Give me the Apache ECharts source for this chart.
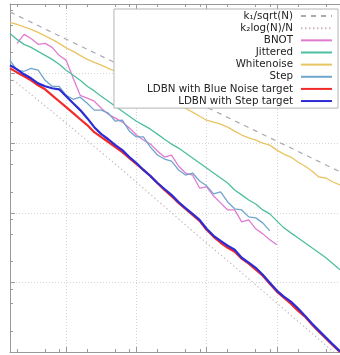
<!DOCTYPE html>
<html><head><meta charset="utf-8">
<script src="https://cdn.jsdelivr.net/npm/echarts@6/dist/echarts.min.js"></script>
<style>html,body{margin:0;padding:0;background:#fff}#c{width:340px;height:355px}</style>
</head><body><div id="c"></div>
<script>
// Number of points N (log spaced), shared by the measured curves
const N = [1.585, 1.995, 2.512, 3.162, 3.981, 5.012, 6.310, 7.943, 10, 12.59, 15.85, 19.95, 25.12, 31.62, 39.81, 50.12, 63.10, 79.43,
  100, 125.9, 158.5, 199.5, 251.2, 316.2, 398.1, 501.2, 631.0, 794.3, 1000, 1259, 1585, 1995, 2512, 3162, 3981, 5012, 6310, 7943,
  10000, 12589, 15849, 19953, 25119, 31623, 39811, 50119, 63096, 79433];

// Reference curves
const sqrtRefN = [1.585, 10, 100, 1000, 10000, 79433];
const sqrtRef = [0.768, 0.312, 0.1024, 0.0329, 0.0107, 0.00389];
const logRefN = [1.585, 8.2, 58.6, 730, 4140, 62800, 79433];
const logRef = [0.0885, 0.0229, 0.0044, 0.000482, 0.000109, 1.02e-5, 8.3e-6];

// Measured discrepancy curves
const bnot = [null, 0.272, 0.366, 0.320, 0.263, 0.272, 0.238, 0.183, 0.155, 0.0856, 0.0487, 0.0443, 0.0401, 0.0318, 0.0261, 0.0229,
  0.0201, 0.0166, 0.0131, 0.0111, 0.00971, 0.00771, 0.00632, 0.00676, 0.00470, 0.00373, 0.00349, 0.00227, 0.00235, 0.00174, 0.00139,
  0.00110, 0.00110, 0.000741, 0.000791, 0.000589, 0.000498, 0.000409, 0.000347, null, null, null, null, null, null, null, null, null];
const jittered = [0.378, 0.310, 0.263, 0.238, 0.209, 0.183, 0.160, 0.136, 0.112, 0.0946, 0.0801, 0.0657, 0.0564, 0.0473, 0.0401, 0.0340,
  0.0288, 0.0244, 0.0207, 0.0182, 0.0159, 0.0135, 0.0114, 0.00971, 0.00851, 0.00722, 0.00612, 0.00519, 0.00440, 0.00373, 0.00316,
  0.00268, 0.00213, 0.00181, 0.00153, 0.00134, 0.00110, 0.000964, 0.000765, 0.000608, 0.000515, 0.000437, 0.000371, 0.000314,
  0.000267, 0.000226, 0.000186, 0.000152];
const whitenoise = [0.543, 0.509, 0.468, 0.431, 0.391, 0.348, 0.310, 0.272, 0.234, 0.209, 0.183, 0.160, 0.145, 0.132, 0.119, 0.108,
  0.0977, 0.0856, 0.0751, 0.0658, 0.0577, 0.0506, 0.0443, 0.0401, 0.0363, 0.0318, 0.0279, 0.0244, 0.0214, 0.0201, 0.0188, 0.0170,
  0.0149, 0.0131, 0.0119, 0.0111, 0.0100, 0.00939, 0.00796, 0.00698, 0.00632, 0.00536, 0.00470, 0.00398, 0.00327, 0.00316, 0.00277, 0.00251];
const step = [0.155, 0.112, 0.108, 0.119, 0.112, 0.0801, 0.0657, 0.0657, 0.0487, 0.0428, 0.0458, 0.0375, 0.0299, 0.0299, 0.0271, 0.0207,
  0.0214, 0.0149, 0.0123, 0.0123, 0.00879, 0.00676, 0.00592, 0.00554, 0.00413, 0.00349, 0.00373, 0.00286, 0.00244, 0.00187, 0.00200,
  0.00143, 0.00114, 0.00110, 0.000873, 0.000846, 0.000716, 0.000550, null, null, null, null, null, null, null, null, null, null];
const ldbnBlueNoise = [0.119, 0.104, 0.0915, 0.0801, 0.0680, 0.0595, 0.0487, 0.0401, 0.0329, 0.0271, 0.0221, 0.0182, 0.0144, 0.0122,
  0.0104, 0.00879, 0.00745, 0.00612, 0.00503, 0.00413, 0.00338, 0.00268, 0.00213, 0.00174, 0.00139, 0.00114, 0.000933, 0.000765,
  0.000570, 0.000452, 0.000371, 0.000314, 0.000276, 0.000219, 0.000186, 0.000152, 0.000125, 9.58e-5, 7.38e-5, 6.04e-5, 4.95e-5,
  3.93e-5, 3.23e-5, 2.48e-5, 1.96e-5, 1.56e-5, 1.24e-5, 1.0e-5];
const ldbnStep = [0.132, 0.115, 0.0977, 0.0856, 0.0724, 0.0657, 0.0616, 0.0595, 0.0473, 0.0375, 0.0299, 0.0229, 0.0170, 0.0135,
  0.0114, 0.00939, 0.00796, 0.00632, 0.00519, 0.00413, 0.00338, 0.00268, 0.00220, 0.00181, 0.00143, 0.00117, 0.000964, 0.000791,
  0.000589, 0.000467, 0.000394, 0.000336, 0.000294, 0.000226, 0.000192, 0.000162, 0.000129, 9.90e-5, 7.63e-5, 6.24e-5, 5.29e-5,
  4.25e-5, 3.33e-5, 2.56e-5, 2.03e-5, 1.61e-5, 1.28e-5, 1.02e-5];

// Axis extents and minor tick positions
const xMin = 1.585, xMax = 79433;
const yMin = 1e-5, yMax = 1;
const xMinorTicks = [2, 5, 8, 20, 50, 80, 200, 500, 800, 2000, 5000, 8000, 20000, 50000];
const yMinorTicks = [2e-5, 5e-5, 8e-5, 2e-4, 5e-4, 8e-4, 2e-3, 5e-3, 8e-3, 0.02, 0.05, 0.08, 0.2, 0.5, 0.8];

const names = ['k\u2081/sqrt(N)', 'k\u2082log(N)/N', 'BNOT', 'Jittered', 'Whitenoise', 'Step',
  'LDBN with Blue Noise target', 'LDBN with Step target'];

function pairs(xs, ys) {
  const out = [];
  for (let i = 0; i < xs.length; i++) if (ys[i] != null) out.push([xs[i], ys[i]]);
  return out;
}
function line(name, data, color, width, type) {
  return { name, type: 'line', data, symbol: 'none', showSymbol: false, clip: true, smooth: false,
    xAxisIndex: 0, yAxisIndex: 0,
    lineStyle: { color, width, type: type || 'solid' }, itemStyle: { color }, emphasis: { disabled: true } };
}

const axisCol = '#9a9a9a';
function xAx(pos, minor) {
  return { type: 'log', logBase: 10, min: xMin, max: xMax, position: pos, offset: 0,
    axisLine: { show: !minor, lineStyle: { color: axisCol, width: 1 } },
    axisTick: minor ? { show: true, inside: true, length: 3, customValues: xMinorTicks, lineStyle: { color: axisCol } }
                    : { show: true, inside: true, length: 5, lineStyle: { color: axisCol } },
    axisLabel: { show: false },
    splitLine: (pos === 'bottom' && !minor) ? { show: true, showMinLine: false, showMaxLine: false,
      lineStyle: { color: '#d6d6d6', type: [1, 2], width: 1 } } : { show: false } };
}
function yAx(minor) {
  return { type: 'log', logBase: 10, min: yMin, max: yMax, position: 'left', offset: 0,
    axisLine: { show: !minor, lineStyle: { color: axisCol, width: 1 } },
    axisTick: minor ? { show: true, inside: true, length: 3, customValues: yMinorTicks, lineStyle: { color: axisCol } }
                    : { show: true, inside: true, length: 5, lineStyle: { color: axisCol } },
    axisLabel: { show: false },
    splitLine: !minor ? { show: true, showMinLine: false, showMaxLine: false,
      lineStyle: { color: '#d6d6d6', type: [1, 2], width: 1 } } : { show: false } };
}

const chart = echarts.init(document.getElementById('c'), null, { renderer: 'canvas' });
chart.setOption({
  animation: false,
  backgroundColor: '#fff',
  grid: { left: 10, right: 0, top: 4, bottom: 3, containLabel: false },
  xAxis: [xAx('bottom', false), xAx('bottom', true), xAx('top', false), xAx('top', true)],
  yAxis: [yAx(false), yAx(true)],
  legend: {
    data: names, orient: 'vertical', align: 'right', right: 2, top: 9,
    padding: [1, 5, 1, 33], backgroundColor: '#fff', borderColor: '#b4b4b4', borderWidth: 1, borderRadius: 0,
    itemWidth: 31, itemHeight: 8, itemGap: 0, selectedMode: false,
    itemStyle: { opacity: 0, color: 'rgba(0,0,0,0)', borderWidth: 0 },
    textStyle: { fontFamily: 'DejaVu Sans', fontSize: 10.3, color: '#222', lineHeight: 12.14, padding: [0, 3, 0, 0] }
  },
  series: [
    line(names[0], pairs(sqrtRefN, sqrtRef), '#a9a9b4', 1.2, [5, 5]),
    line(names[1], pairs(logRefN, logRef), '#cdb8c0', 1.1, [1.5, 2.5]),
    line(names[2], pairs(N, bnot), '#e07bd2', 1.3),
    line(names[3], pairs(N, jittered), '#4dbf9f', 1.3),
    line(names[4], pairs(N, whitenoise), '#e8c462', 1.3),
    line(names[5], pairs(N, step), '#6fa5cb', 1.3),
    line(names[6], pairs(N, ldbnBlueNoise), '#f22a2a', 2.2),
    line(names[7], pairs(N, ldbnStep), '#2c2cd4', 2.2)
  ]
});
</script>
</body></html>
